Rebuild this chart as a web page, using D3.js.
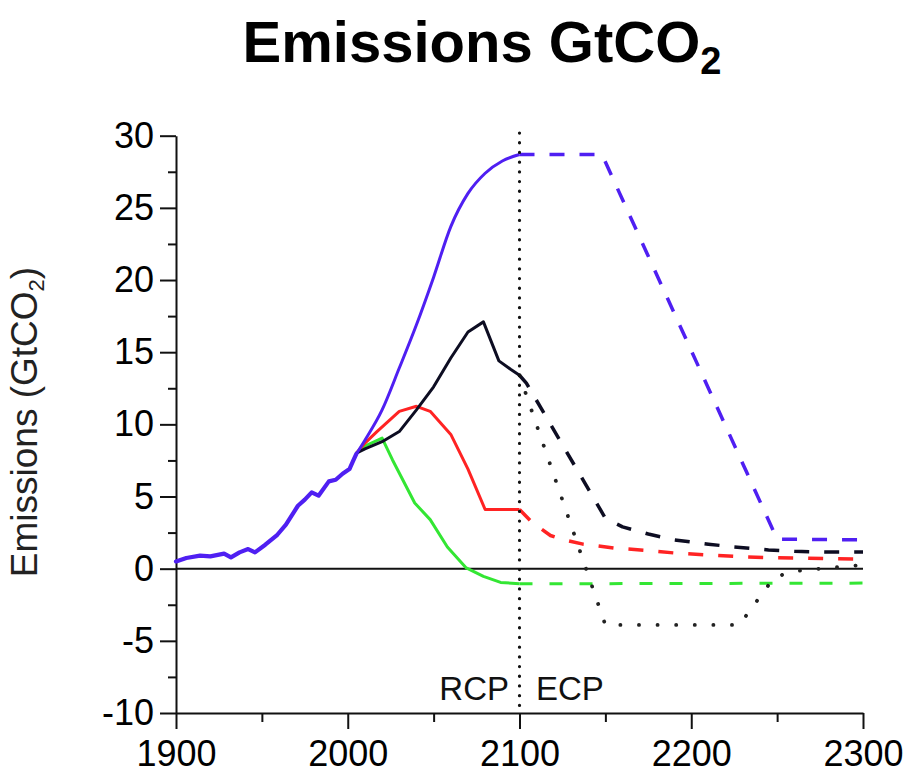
<!DOCTYPE html>
<html><head><meta charset="utf-8">
<script src="https://cdn.jsdelivr.net/npm/d3@7"></script>
<style>
html,body{margin:0;padding:0;background:#fff;}
svg{display:block;font-family:"Liberation Sans",Arial,Helvetica,sans-serif;}
</style></head>
<body>
<svg id="chart" width="909" height="773"></svg>
<script>
// ---- data ----
const histYears = [1900,1906,1914,1920,1928,1932,1937,1942,1946,1952,1959,1964,1971,1975,1979,1983,1989,1993,1997,2001,2003,2005];
const histVals  = [0.5,0.74,0.9,0.85,1.04,0.78,1.13,1.36,1.13,1.66,2.35,3.05,4.36,4.78,5.29,5.06,6.05,6.16,6.58,6.9,7.43,7.95];

const rcp85Years = [2005,2010,2020,2030,2040,2050,2060,2070,2080,2090,2100];
const rcp85Vals  = [7.95,8.9,11.0,13.9,16.9,20.2,23.7,26.0,27.4,28.25,28.7];
const rcp60Years = [2005,2010,2020,2030,2040,2050,2060,2070,2079,2088,2095,2100];
const rcp60Vals  = [8.0,8.3,8.8,9.5,11.0,12.6,14.6,16.4,17.1,14.4,13.8,13.4];
const rcp45Years = [2005,2010,2017,2030,2040,2048,2060,2070,2080,2100];
const rcp45Vals  = [8.0,8.7,9.5,10.9,11.25,10.9,9.3,6.9,4.1,4.1];
const rcp26Years = [2005,2010,2020,2026,2039,2048,2058,2069,2079,2089,2100];
const rcp26Vals  = [8.0,8.5,9.05,7.55,4.55,3.4,1.5,0.05,-0.53,-0.95,-1.05];

const ecp85Years = [2100,2148,2250,2300];
const ecp85Vals  = [28.7,28.7,2.05,2.0];
const ecp60Years = [2100,2104,2150,2160,2175,2190,2210,2225,2245,2260,2280,2300];
const ecp60Vals  = [13.4,12.86,3.5,2.9,2.4,2.0,1.7,1.5,1.3,1.2,1.15,1.15];
const ecp45Years = [2100,2107,2118,2124,2137,2155,2173,2190,2207,2225,2242,2261,2280,2300];
const ecp45Vals  = [4.1,3.25,2.3,2.05,1.7,1.43,1.27,1.09,0.97,0.85,0.78,0.74,0.69,0.66];
const ecp26Years = [2100,2300];
const ecp26Vals  = [-1.05,-1.0];
const scpYears   = [2100,2150,2228,2248,2258,2280,2300];
const scpVals    = [13.4,-3.9,-3.9,-0.65,-0.2,0.05,0.25];

const xMajorTicks = [1900,2000,2100,2200,2300];
const xMinorTicks = [1950,2050,2150,2250];
const yMajorTicks = [-10,-5,0,5,10,15,20,25,30];
const yMinorTicks = [-7.5,-2.5,2.5,7.5,12.5,17.5,22.5,27.5];

const colors = {blue:"#4f1ff2", black:"#0d0d22", red:"#ff2323", green:"#33e633"};

// ---- scales ----
const svg = d3.select("#chart");
const x = d3.scaleLinear().domain([1900,2300]).range([176,863]);
const y = d3.scaleLinear().domain([-10,30]).range([713,135.7]);

const zip = (xs, vs) => xs.map((d,i)=>({x:d, y:vs[i]}));
const lineLin = d3.line().x(d=>x(d.x)).y(d=>y(d.y));
const lineSmooth = d3.line().x(d=>x(d.x)).y(d=>y(d.y)).curve(d3.curveMonotoneX);

// ---- axes ----
const yAxisMinor = d3.axisLeft(y).tickValues(yMinorTicks).tickSize(8).tickFormat("");
const yAxis = d3.axisLeft(y).tickValues(yMajorTicks).tickSize(16).tickSizeOuter(0).tickPadding(6)
   .tickFormat(d => String(d));
const xAxisMinor = d3.axisBottom(x).tickValues(xMinorTicks).tickSize(9).tickFormat("");
const xAxis = d3.axisBottom(x).tickValues(xMajorTicks).tickSize(16).tickSizeOuter(0).tickPadding(11)
   .tickFormat(d => String(d));

const gy = svg.append("g").attr("transform","translate(176,0)");
gy.call(yAxisMinor); gy.select(".domain").remove();
const gy2 = svg.append("g").attr("transform","translate(176,0)").call(yAxis);
const gx = svg.append("g").attr("transform","translate(0,713)");
gx.call(xAxisMinor); gx.select(".domain").remove();
const gx2 = svg.append("g").attr("transform","translate(0,713)").call(xAxis);

svg.selectAll(".domain, .tick line").attr("stroke","#111").attr("stroke-width",2);
svg.selectAll(".tick text").attr("fill","#000").style("font-size","36px")
   .style("font-family","'Liberation Sans',Arial,sans-serif");

// zero line
svg.append("line").attr("x1",x(1900)).attr("x2",x(2300)).attr("y1",y(0)).attr("y2",y(0))
   .attr("stroke","#111").attr("stroke-width",2);

// ---- series ----
const g = svg.append("g").attr("fill","none").attr("stroke-linejoin","round");
function draw(data, color, width, gen, dash, cap){
  const p = g.append("path").datum(data).attr("d",gen).attr("stroke",color).attr("stroke-width",width);
  if(dash) p.attr("stroke-dasharray",dash);
  p.attr("stroke-linecap", cap || "butt");
  return p;
}
// ECP (dashed / dotted)
draw(zip(ecp26Years,ecp26Vals), colors.green, 3, lineLin, "13,17");
draw(zip(ecp45Years,ecp45Vals), colors.red, 3.5, lineLin, "15,15");
draw(zip(ecp60Years,ecp60Vals), colors.black, 3.5, lineLin, "15,15");
draw(zip(ecp85Years,ecp85Vals), colors.blue, 3.5, lineLin, "15,15");
draw(zip(scpYears,scpVals), "#222", 3.8, lineLin, "0.1,18.5", "round");
// RCP (solid)
draw(zip(rcp26Years,rcp26Vals), colors.green, 3, lineLin);
draw(zip(rcp45Years,rcp45Vals), colors.red, 3, lineLin);
draw(zip(rcp60Years,rcp60Vals), colors.black, 3, lineLin);
draw(zip(rcp85Years,rcp85Vals), colors.blue, 3, lineSmooth);
// historical
draw(zip(histYears,histVals), colors.blue, 4.2, lineLin, null, "round");

// vertical dotted divider at 2100
svg.append("line").attr("x1",x(2100)).attr("x2",x(2100)).attr("y1",133).attr("y2",y(-10))
   .attr("stroke","#111").attr("stroke-width",3.2).attr("stroke-dasharray","0.1,9.6").attr("stroke-linecap","round");

// ---- texts ----
const title = svg.append("text").attr("x",482).attr("y",62).attr("text-anchor","middle")
   .style("font-size","58px").style("font-weight","bold").attr("fill","#000");
title.append("tspan").text("Emissions GtCO");
title.append("tspan").text("2").style("font-size","38px").attr("dy",12);

const ylab = svg.append("text").attr("transform","translate(37,422) rotate(-90)")
   .attr("text-anchor","middle").style("font-size","37px").attr("fill","#222");
ylab.append("tspan").text("Emissions (GtCO");
ylab.append("tspan").text("2").style("font-size","22px").attr("dy",7);
ylab.append("tspan").text(")").attr("dy",-7);

svg.append("text").attr("x",509).attr("y",700).attr("text-anchor","end")
   .style("font-size","33px").attr("fill","#111").text("RCP");
svg.append("text").attr("x",536).attr("y",700).attr("text-anchor","start")
   .style("font-size","33px").attr("fill","#111").text("ECP");
</script>
</body></html>
